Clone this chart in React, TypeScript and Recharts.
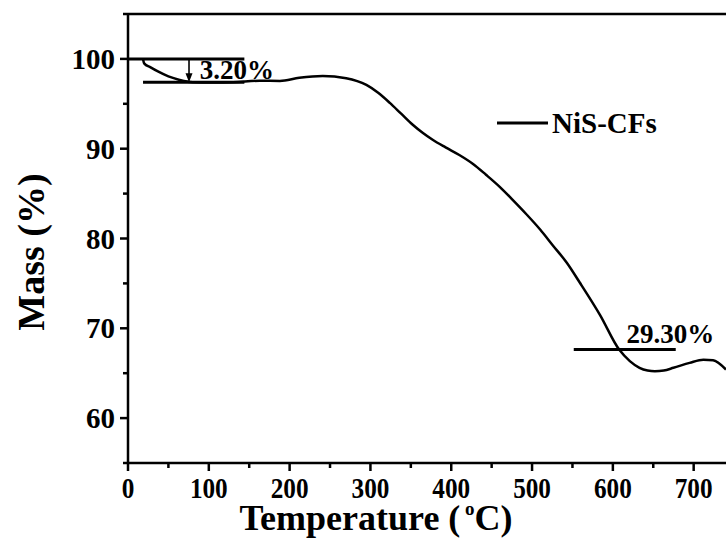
import React from "react";
import { LineChart, Line, XAxis, YAxis, ReferenceLine, ReferenceDot, Legend } from "recharts";

const tempC = [18.6, 20, 28, 37, 50, 64, 80, 105, 130, 163, 188, 212, 241, 270, 295, 310, 324, 338, 352, 365, 377, 393, 410, 427, 443, 460, 476, 493, 510, 526, 543, 559, 584, 608, 621, 633, 643, 652, 663, 675, 695, 712, 724, 740];
const massPct = [100, 99.5, 99.05, 98.6, 98.05, 97.66, 97.41, 97.38, 97.41, 97.57, 97.55, 97.9, 98.1, 97.85, 97.1, 96.2, 95.1, 93.9, 92.7, 91.75, 91.0, 90.15, 89.3, 88.3, 87.1, 85.75, 84.3, 82.7, 81.0, 79.2, 77.3, 75.1, 71.5, 67.6, 66.35, 65.6, 65.3, 65.22, 65.3, 65.6, 66.15, 66.5, 66.45, 65.4];
const seriesName = "NiS-CFs";
const xTicks = [0, 50, 100, 150, 200, 250, 300, 350, 400, 450, 500, 550, 600, 650, 700];
const yTicks = [55, 60, 65, 70, 75, 80, 85, 90, 95, 100, 105];
const lossLow = { label: "3.20%", xFrom: 18.6, xTo: 144, top: 100, bottom: 97.41, arrowX: 75.5, textX: 88.7, textY: 97.8 };
const lossHigh = { label: "29.30%", xFrom: 551.6, xTo: 677.8, y: 67.63, textX: 617, textY: 68.4 };

const data = tempC.map((t, i) => ({ temp: t, mass: massPct[i] }));

const FONT = "'Liberation Serif', 'Times New Roman', serif";

const XTick = (props: any) => {
  const { x, y, payload } = props;
  const v = payload.value;
  const major = v % 100 === 0;
  return (
    <g>
      <line x1={x} y1={y} x2={x} y2={y + (major ? 8 : 5)} stroke="#000" strokeWidth={2.5} />
      {major && (
        <text transform={`translate(${x},${y + 35}) scale(0.87,1)`} textAnchor="middle" fontFamily={FONT} fontWeight="bold" fontSize={29} fill="#000">
          {v}
        </text>
      )}
    </g>
  );
};

const YTick = (props: any) => {
  const { x, y, payload } = props;
  const v = payload.value;
  const major = v % 10 === 0;
  return (
    <g>
      <line x1={x} y1={y} x2={x - (major ? 8 : 5)} y2={y} stroke="#000" strokeWidth={2.5} />
      {major && (
        <text x={x - 13} y={y + 10} textAnchor="end" fontFamily={FONT} fontWeight="bold" fontSize={29} fill="#000">
          {v}
        </text>
      )}
    </g>
  );
};

const XTitle = (props: any) => {
  const vb = props.viewBox || { x: 0, y: 0 };
  return (
    <text x={vb.x + 248} y={vb.y + 67} textAnchor="middle" fontFamily={FONT} fontWeight="bold" fontSize={36} fill="#000">
      Temperature (
      <tspan dy={-15} fontSize={19}> o</tspan>
      <tspan dy={15}>C)</tspan>
    </text>
  );
};

const YTitle = (props: any) => {
  const vb = props.viewBox || { x: 0, y: 0 };
  const cx = vb.x + 44;
  const cy = vb.y + 238;
  return (
    <text x={cx} y={cy} transform={`rotate(-90, ${cx}, ${cy})`} textAnchor="middle" fontFamily={FONT} fontWeight="bold" fontSize={38} fill="#000">
      Mass (%)
    </text>
  );
};

const LegendContent = (props: any) => {
  const items = props.payload || [];
  return (
    <svg width={200} height={40} style={{ display: "block" }}>
      {items.map((it: any, i: number) => (
        <g key={i}>
          <line x1={0} y1={20} x2={51} y2={20} stroke={it.color || "#000"} strokeWidth={3} />
          <text x={55} y={29.5} fontFamily={FONT} fontWeight="bold" fontSize={29} fill="#000">
            {it.value}
          </text>
        </g>
      ))}
    </svg>
  );
};

const Arrow = (props: any) => {
  const { x1, y1, x2, y2 } = props;
  return (
    <g>
      <line x1={x1} y1={y1} x2={x2} y2={y2 - 6} stroke="#000" strokeWidth={1.6} />
      <path d={`M${x2 - 3.5},${y2 - 9} L${x2 + 3.5},${y2 - 9} L${x2},${y2} Z`} fill="#000" />
    </g>
  );
};

const makeText = (label: string) => (props: any) => {
  const { cx, cy } = props;
  return (
    <text x={cx} y={cy} fontFamily={FONT} fontWeight="bold" fontSize={27} fill="#000">
      {label}
    </text>
  );
};

export default function App() {
  return (
    <div style={{ position: "absolute", left: 0, top: 0, width: 726, height: 538, overflow: "hidden", background: "#fff" }}>
      <LineChart width={726} height={538} data={data} margin={{ top: 14, right: 0, bottom: 0, left: 0 }}>
        <XAxis
          type="number"
          dataKey="temp"
          domain={[0, 740]}
          ticks={xTicks}
          interval={0}
          allowDataOverflow
          height={75}
          tickSize={0}
          tickMargin={0}
          tickLine={false}
          axisLine={{ stroke: "#000", strokeWidth: 2.5 }}
          tick={<XTick />}
          label={<XTitle />}
        />
        <YAxis
          type="number"
          domain={[55, 105]}
          ticks={yTicks}
          interval={0}
          allowDataOverflow
          width={128}
          tickSize={0}
          tickMargin={0}
          tickLine={false}
          axisLine={{ stroke: "#000", strokeWidth: 2.5 }}
          tick={<YTick />}
          label={<YTitle />}
        />
        <ReferenceLine y={105} stroke="#000" strokeWidth={2.5} ifOverflow="visible" />
        <ReferenceLine segment={[{ x: 0, y: lossLow.top }, { x: lossLow.xTo, y: lossLow.top }]} stroke="#000" strokeWidth={3} ifOverflow="visible" />
        <ReferenceLine segment={[{ x: lossLow.xFrom, y: lossLow.bottom }, { x: lossLow.xTo, y: lossLow.bottom }]} stroke="#000" strokeWidth={3} ifOverflow="visible" />
        <ReferenceLine segment={[{ x: lossLow.arrowX, y: lossLow.top }, { x: lossLow.arrowX, y: lossLow.bottom }]} shape={<Arrow />} ifOverflow="visible" />
        <ReferenceLine segment={[{ x: lossHigh.xFrom, y: lossHigh.y }, { x: lossHigh.xTo, y: lossHigh.y }]} stroke="#000" strokeWidth={3} ifOverflow="visible" />
        <ReferenceDot x={lossLow.textX} y={lossLow.textY} r={0} shape={makeText(lossLow.label)} ifOverflow="visible" />
        <ReferenceDot x={lossHigh.textX} y={lossHigh.textY} r={0} shape={makeText(lossHigh.label)} ifOverflow="visible" />
        <Line type="monotone" dataKey="mass" name={seriesName} stroke="#000" strokeWidth={2.5} dot={false} isAnimationActive={false} />
        <Legend
          layout="vertical"
          align="center"
          verticalAlign="middle"
          content={<LegendContent />}
          wrapperStyle={{ position: "absolute", left: 497, top: 103, width: 200, height: 40 }}
        />
      </LineChart>
    </div>
  );
}
